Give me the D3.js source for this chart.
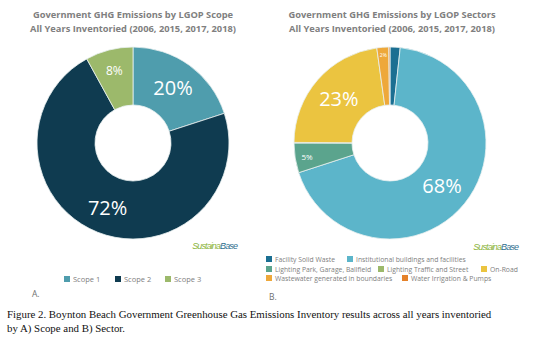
<!DOCTYPE html>
<html><head><meta charset="utf-8">
<script src="https://cdn.jsdelivr.net/npm/d3@7"></script>
<style>body{margin:0;background:#fff}svg{display:block}</style>
</head><body>
<script>
const scopeLabels = ["Scope 1", "Scope 2", "Scope 3"];
const scopeValues = [20, 72, 8];
const scopeColors = ["#4f9dad", "#0f3b50", "#9cb96b"];
const scopeText = ["20%", "72%", "8%"];

const sectorLabels = ["Facility Solid Waste", "Institutional buildings and facilities", "Lighting Park, Garage, Ballfield", "Lighting Traffic and Street", "On-Road", "Wastewater generated in boundaries", "Water Irrigation & Pumps"];
const sectorValues = [1.7, 68.3, 5.0, 0.1, 22.7, 2.0, 0.2];
const sectorColors = ["#1b6f92", "#5cb5ca", "#5ba48d", "#9cb96b", "#ebc440", "#eea83a", "#e5822a"];
const sectorText = ["", "68%", "5%", "", "23%", "2%", ""];

const W = 533, H = 346;
const svg = d3.select("body").append("svg").attr("width", W).attr("height", H)
  .style("font-family", "'Open Sans', sans-serif");

function titles(cx, lines) {
  svg.append("g").selectAll("text").data(lines).join("text")
    .attr("x", cx).attr("y", (d, i) => 18 + i * 14)
    .attr("text-anchor", "middle").attr("font-size", 9.3).attr("font-weight", "bold")
    .attr("fill", "#808080").text(d => d);
}
titles(133, ["Government GHG Emissions by LGOP Scope", "All Years Inventoried (2006, 2015, 2017, 2018)"]);
titles(392, ["Government GHG Emissions by LGOP Sectors", "All Years Inventoried (2006, 2015, 2017, 2018)"]);

const pie = d3.pie().sort(null).value(d => d);
const arc = d3.arc().innerRadius(38).outerRadius(96);

function donut(cx, cy, values, colors, texts, labelPos, sizes) {
  const g = svg.append("g").attr("transform", `translate(${cx},${cy})`);
  const arcs = pie(values);
  g.selectAll("path").data(arcs).join("path")
    .attr("d", arc).attr("fill", (d, i) => colors[i])
    .attr("stroke", "#e8f0f0").attr("stroke-width", 0.8);
  g.selectAll("text").data(arcs).join("text")
    .attr("transform", (d, i) => {
      const a = (d.startAngle + d.endAngle) / 2;
      const r = labelPos[i];
      return `translate(${Math.sin(a) * r},${-Math.cos(a) * r})`;
    })
    .attr("text-anchor", "middle").attr("dominant-baseline", "central")
    .attr("font-size", (d, i) => sizes[i]).attr("fill", "#fff")
    .text((d, i) => texts[i]);
}
donut(133, 143, scopeValues, scopeColors, scopeText, [68, 69, 75], [20, 20, 12]);
donut(390, 143, sectorValues, sectorColors, sectorText, [0, 67, 84, 0, 68, 88, 0], [0, 20, 8, 0, 20, 5, 0]);

function logo(x, y) {
  const t = svg.append("text").attr("x", x).attr("y", y).attr("font-size", 9)
    .attr("font-style", "italic").attr("letter-spacing", -0.9).attr("text-anchor", "end")
    .attr("font-family", "'Liberation Sans Narrow', 'Liberation Sans', sans-serif");
  t.append("tspan").attr("fill", "#8cb43c").text("Sustaina");
  t.append("tspan").attr("fill", "#2f6f8f").text("Base");
}
logo(237, 249);
logo(518, 250);

function legend(items, fs) {
  const g = svg.append("g");
  items.forEach(it => {
    g.append("rect").attr("x", it.x).attr("y", it.y - 6).attr("width", 6).attr("height", 6).attr("fill", it.c);
    g.append("text").attr("x", it.x + 9).attr("y", it.y).attr("font-size", fs)
      .attr("fill", "#808080").text(it.t);
  });
}
legend([
  {x: 64, y: 282, t: scopeLabels[0], c: scopeColors[0]},
  {x: 115, y: 282, t: scopeLabels[1], c: scopeColors[1]},
  {x: 165, y: 282, t: scopeLabels[2], c: scopeColors[2]}
], 7.5);
legend([
  {x: 266, y: 262, t: sectorLabels[0], c: sectorColors[0]},
  {x: 347, y: 262, t: sectorLabels[1], c: sectorColors[1]},
  {x: 266, y: 272, t: sectorLabels[2], c: sectorColors[2]},
  {x: 378, y: 272, t: sectorLabels[3], c: sectorColors[3]},
  {x: 481, y: 272, t: sectorLabels[4], c: sectorColors[4]},
  {x: 266, y: 281, t: sectorLabels[5], c: sectorColors[5]},
  {x: 402, y: 281, t: sectorLabels[6], c: sectorColors[6]}
], 6.8);

svg.append("text").attr("x", 32).attr("y", 297).attr("font-size", 8.5).attr("fill", "#707070").text("A.");
svg.append("text").attr("x", 269).attr("y", 300).attr("font-size", 8.5).attr("fill", "#707070").text("B.");

const cap = svg.append("g").attr("font-family", "'Liberation Serif', 'Times New Roman', serif")
  .attr("font-size", 10.85).attr("fill", "#111");
cap.append("text").attr("x", 7).attr("y", 318)
  .text("Figure 2. Boynton Beach Government Greenhouse Gas Emissions Inventory results across all years inventoried");
cap.append("text").attr("x", 7).attr("y", 332).text("by A) Scope and B) Sector.");
</script>
</body></html>
